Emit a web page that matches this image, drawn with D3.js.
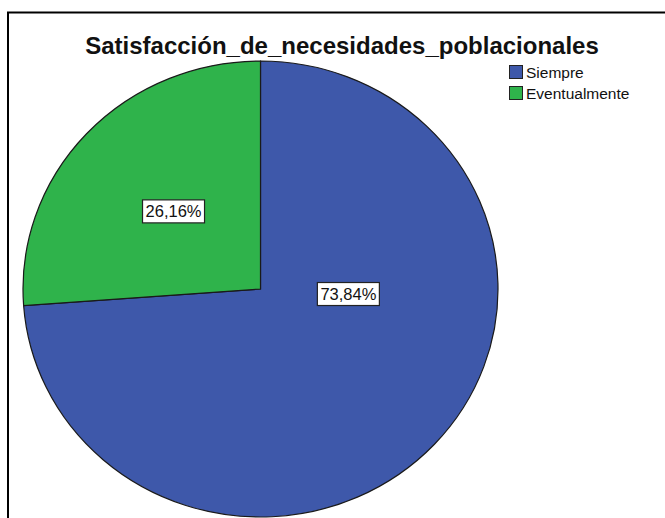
<!DOCTYPE html>
<meta charset="utf-8">
<head>
    <title>Satisfacción de necesidades poblacionales</title>
    <script type="text/javascript" src="https://d3js.org/d3.v7.min.js"></script>
    <style>
        body { margin: 0; background: #fff; }
        text { font-family: "Liberation Sans", Arial, sans-serif; }
    </style>
</head>
<body>
    <div id="chart"></div>

    <script>
        // data
        var categories = ["Siempre", "Eventualmente"];
        var percents = [73.84, 26.16];
        var sliceColors = ["#3e58aa", "#2fb34b"];
        var chartTitle = "Satisfacción_de_necesidades_poblacionales";

        var width = 665;
        var height = 518;

        var svg = d3.select("#chart").append("svg")
                    .attr("width", width)
                    .attr("height", height);

        // frame (open at right/bottom, clipped by the window)
        svg.append("path")
           .attr("d", "M8,700 L8,12.5 L700,12.5")
           .attr("fill", "none")
           .attr("stroke", "#000")
           .attr("stroke-width", 2);

        // title
        svg.append("text")
           .attr("x", 342)
           .attr("y", 54)
           .attr("text-anchor", "middle")
           .attr("font-size", "24px")
           .attr("font-weight", "bold")
           .attr("fill", "#111")
           .text(chartTitle);

        // pie (slightly wider than tall, like the original)
        var cx = 260.5, cy = 289, r = 228, sx = 237.5 / 228;
        var color = d3.scaleOrdinal().domain(categories).range(sliceColors);
        var pie = d3.pie().sort(null).value(function(d) { return d.value; });
        var arcs = pie(categories.map(function(c, i) { return { name: c, value: percents[i] }; }));
        var arc = d3.arc().innerRadius(0).outerRadius(r);

        var g = svg.append("g")
                   .attr("transform", "translate(" + cx + "," + cy + ") scale(" + sx + ",1)");

        g.selectAll("path")
         .data(arcs)
         .enter().append("path")
         .attr("d", arc)
         .attr("fill", function(d) { return color(d.data.name); })
         .attr("stroke", "#1a1a1a")
         .attr("stroke-width", 1.2)
         .attr("vector-effect", "non-scaling-stroke");

        // labels: SPSS-style boxed percentages
        var fmt = function(v) { return v.toFixed(2).replace(".", ",") + "%"; };
        var labelPos = function(d, i) {
            if (i === 0) return [r * 0.37 * sx, r * 0.022];
            var c = d3.arc().innerRadius(r * 0.5).outerRadius(r * 0.5).centroid(d);
            return [c[0] * sx, c[1]];
        };

        var labels = svg.append("g")
                        .attr("transform", "translate(" + cx + "," + cy + ")")
                        .selectAll("g")
                        .data(arcs)
                        .enter().append("g")
                        .attr("transform", function(d, i) {
                            var p = labelPos(d, i);
                            return "translate(" + p[0] + "," + p[1] + ")";
                        });

        labels.append("rect")
              .attr("x", -31)
              .attr("y", -11.5)
              .attr("width", 62)
              .attr("height", 23)
              .attr("fill", "#fff")
              .attr("stroke", "#222")
              .attr("stroke-width", 1.2);

        labels.append("text")
              .attr("text-anchor", "middle")
              .attr("dy", "0.36em")
              .attr("font-size", "16.5px")
              .attr("fill", "#111")
              .text(function(d) { return fmt(d.data.value); });

        // legend
        var legend = svg.append("g")
                        .attr("transform", "translate(509,65)")
                        .selectAll("g")
                        .data(categories)
                        .enter().append("g")
                        .attr("transform", function(d, i) { return "translate(0," + (i * 21) + ")"; });

        legend.append("rect")
              .attr("x", 0.5)
              .attr("y", 0.5)
              .attr("width", 13)
              .attr("height", 13)
              .attr("fill", function(d) { return color(d); })
              .attr("stroke", "#222")
              .attr("stroke-width", 1);

        legend.append("text")
              .attr("x", 17)
              .attr("y", 7)
              .attr("dy", "0.36em")
              .attr("font-size", "15.5px")
              .attr("fill", "#111")
              .text(function(d) { return d; });
    </script>
</body>
</html>
